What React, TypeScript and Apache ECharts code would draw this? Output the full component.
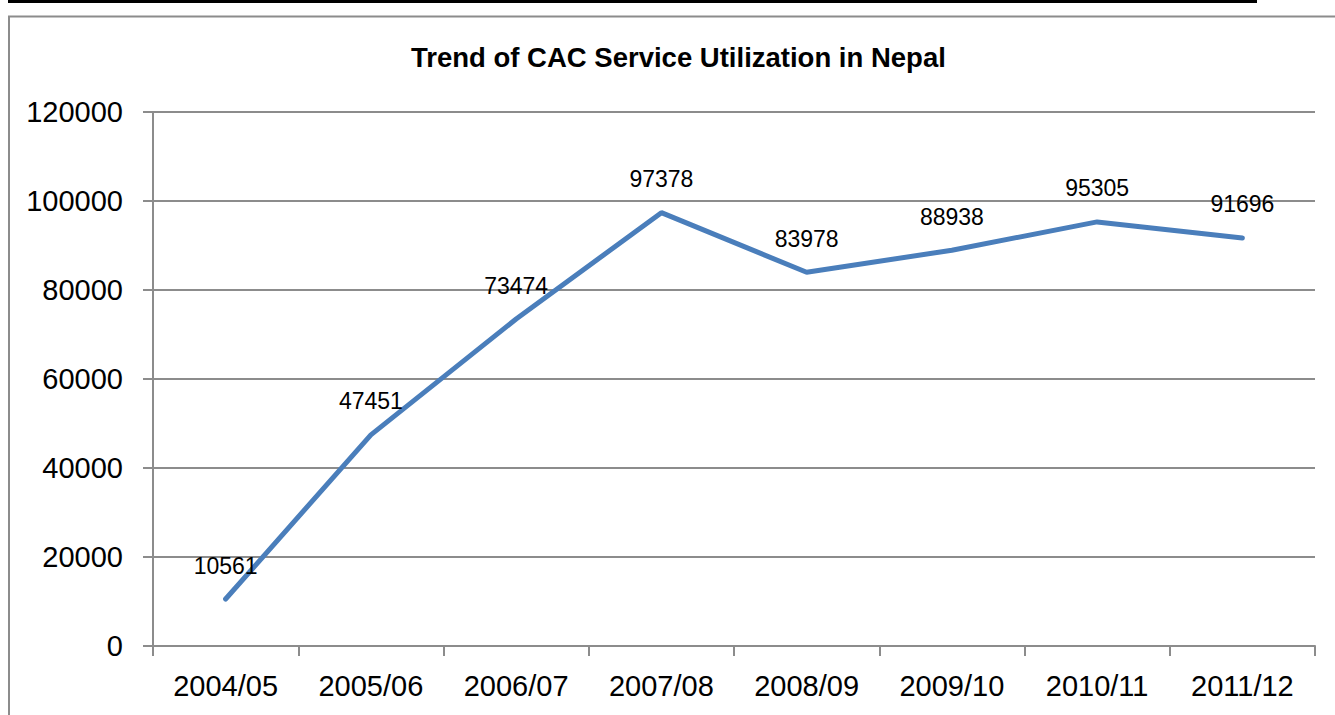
import React, { useEffect, useRef } from "react";
import * as echarts from "echarts";

const categories = ["2004/05", "2005/06", "2006/07", "2007/08", "2008/09", "2009/10", "2010/11", "2011/12"];
const values = [10561, 47451, 73474, 97378, 83978, 88938, 95305, 91696];
const title = "Trend of CAC Service Utilization in Nepal";

export default function App() {
  const ref = useRef<HTMLDivElement>(null);
  useEffect(() => {
    if (!ref.current) return;
    const chart = echarts.init(ref.current, null, { renderer: "svg" });
    const font = "'Liberation Sans', Arial, sans-serif";
    const gray = "#8c8c8c";
    chart.setOption({
      animation: false,
      backgroundColor: "#ffffff",
      textStyle: { fontFamily: font },
      title: {
        text: title,
        left: 406,
        top: 38,
        textStyle: { fontFamily: font, fontWeight: "bold", fontSize: 27.5, color: "#000" },
      },
      graphic: [
        { type: "line", shape: { x1: 8, y1: 1.5, x2: 1257, y2: 1.5 }, style: { stroke: "#000", lineWidth: 3 } },
        { type: "rect", shape: { x: 9, y: 16.5, width: 1340, height: 720 }, style: { fill: "none", stroke: gray, lineWidth: 2 } },
      ],
      grid: { left: 153, right: 20, top: 112, bottom: 69, containLabel: false },
      xAxis: {
        type: "category",
        data: categories,
        boundaryGap: true,
        axisLine: { lineStyle: { color: gray, width: 2 } },
        axisTick: { show: true, length: 10, lineStyle: { color: gray, width: 2 } },
        axisLabel: { color: "#000", fontSize: 29, margin: 25, fontFamily: font },
      },
      yAxis: {
        type: "value",
        min: 0,
        max: 120000,
        interval: 20000,
        axisLine: { show: true, lineStyle: { color: gray, width: 2 } },
        axisTick: { show: true, length: 10, lineStyle: { color: gray, width: 2 } },
        axisLabel: { color: "#000", fontSize: 29, margin: 30, fontFamily: font, formatter: (v: number) => String(v) },
        splitLine: { lineStyle: { color: gray, width: 2 } },
      },
      series: [
        {
          type: "line",
          data: values,
          symbol: "circle",
          symbolSize: 0,
          showSymbol: true,
          itemStyle: { color: "#4a7ebb" },
          lineStyle: { color: "#4a7ebb", width: 5, cap: "round" },
          label: { show: true, position: "top", distance: 22, color: "#000", fontSize: 23, fontFamily: font },
        },
      ],
    });
    return () => chart.dispose();
  }, []);
  return <div ref={ref} style={{ position: "fixed", left: 0, top: 0, width: 1335, height: 715 }} />;
}
